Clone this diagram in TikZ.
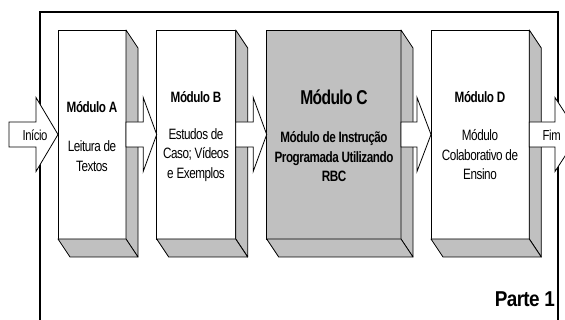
\documentclass[tikz,border=0pt]{standalone}
\usepackage{fontspec}
\setmainfont{Liberation Sans}[FakeStretch=0.78, LetterSpace=-3]
\newfontfamily\partefont{Liberation Sans}[FakeStretch=0.88, LetterSpace=-3]
\usetikzlibrary{calc}
\definecolor{facegray}{RGB}{192,192,192}
\tikzset{
  front/.style={draw=black, line width=0.8pt, fill=white, minimum width=#1,
    minimum height=209pt, inner sep=0pt, outer sep=0pt, anchor=north west},
  face/.style={draw=black, line width=0.8pt, fill=facegray, line join=round},
  blockarr/.style={draw=black, line width=0.8pt, fill=white, line join=miter},
  frameline/.style={draw=black, line width=1.8pt},
  ttl/.style={font=\bfseries\fontsize{15}{17}\selectfont, inner sep=0pt},
  bigttl/.style={font=\bfseries\fontsize{20}{22}\selectfont, inner sep=0pt},
  body/.style={font=\fontsize{15}{19.5}\selectfont, align=center, inner sep=0pt},
  boldbody/.style={font=\bfseries\fontsize{15}{19.5}\selectfont, align=center, inner sep=0pt},
  arrlbl/.style={font=\fontsize{14.5}{16}\selectfont, inner sep=0pt},
}
\newcommand{\boxfaces}[1]{%
  \draw[face] (#1.north east) -- ++(12,18) -- ($(#1.south east)+(12,18)$) -- (#1.south east) -- cycle;
  \draw[face] (#1.south west) -- (#1.south east) -- ++(12,18) -- ($(#1.south west)+(12,18)$) -- cycle;
}
\newcommand{\blockarrow}[3]{%
  \draw[blockarr] ($(#1)+(0,-12.5)$) -- ($(#2)+(-#3,-12.5)$) -- ($(#2)+(-#3,-37)$) -- (#2)
    -- ($(#2)+(-#3,37)$) -- ($(#2)+(-#3,12.5)$) -- ($(#1)+(0,12.5)$) -- cycle;
}
\begin{document}
\begin{tikzpicture}[x=1pt,y=-1pt]
\useasboundingbox (0,0) rectangle (565,320);
\clip (0,0) rectangle (565,320);
\fill[white] (0,0) rectangle (565,320);
% outer frame
\draw[frameline] (40,12) rectangle (558,340);
% module boxes
\node[front=68pt] (A) at (58,30) {};
\boxfaces{A}
\node[front=79pt] (B) at (156.7,30) {};
\boxfaces{B}
\node[front=134.3pt, fill=facegray] (C) at (266.7,30) {};
\boxfaces{C}
\node[front=98.3pt] (D) at (431,30) {};
\boxfaces{D}
% block arrows
\coordinate (inicio) at (9,134.5);
\coordinate (fim) at (579,134.5);
\blockarrow{inicio}{A.west}{22}
\blockarrow{A.east}{B.west}{13.5}
\blockarrow{B.east}{C.west}{13.5}
\blockarrow{C.east}{D.west}{14}
\blockarrow{D.east}{fim}{24}
% labels
\node[arrlbl] (li) at (35,135) {Início};
\node[arrlbl, anchor=west] (lf) at (542.5,135) {Fim};
\node[ttl] (tA) at (92,107) {Módulo A};
\node[body] (bA) at (92,156) {Leitura de\\Textos};
\node[ttl] (tB) at (196,97) {Módulo B};
\node[body] (bB) at (196,155) {Estudos de\\Caso; Vídeos\\e Exemplos};
\node[bigttl] (tC) at (334,97) {Módulo C};
\node[boldbody] (bC) at (334,157) {Módulo de Instrução\\Programada Utilizando\\RBC};
\node[ttl] (tD) at (480,97) {Módulo D};
\node[body] (bD) at (480,155) {Módulo\\Colaborativo de\\Ensino};
\node[font=\partefont\bfseries\fontsize{21.5}{23}\selectfont, inner sep=0pt, anchor=base east] (parte) at (555,307) {Parte 1};
\end{tikzpicture}
\end{document}
